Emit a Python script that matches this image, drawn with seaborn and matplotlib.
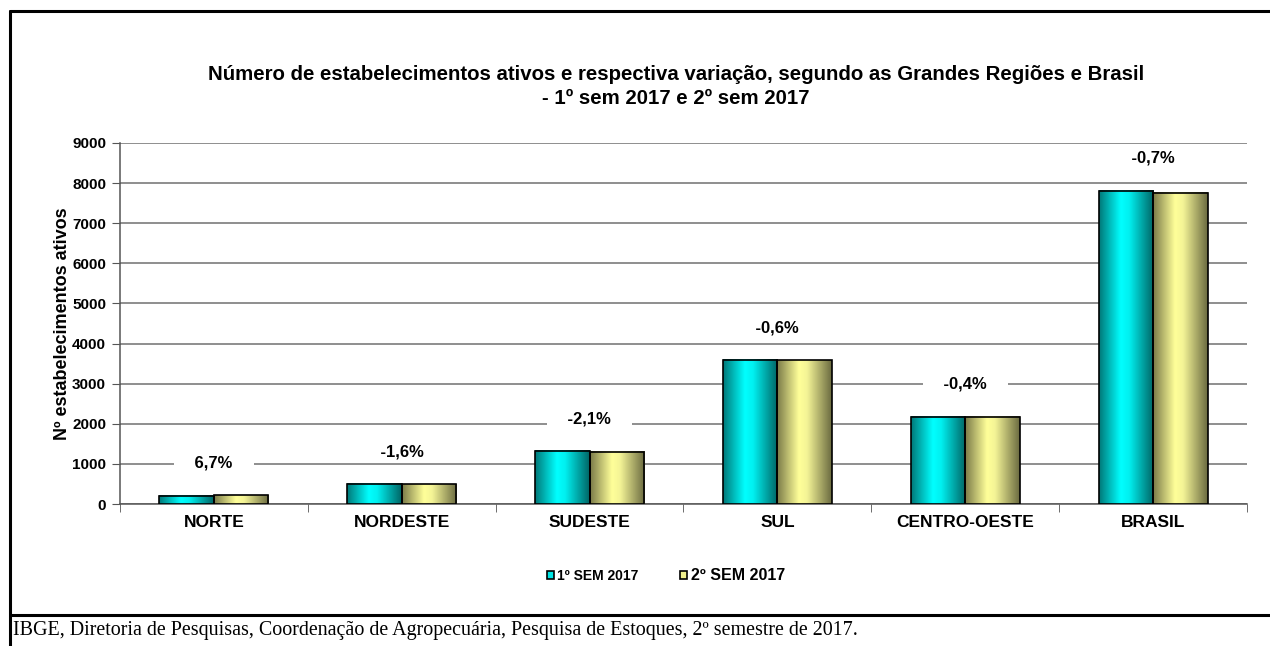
import matplotlib
matplotlib.use("Agg")
import matplotlib.pyplot as plt
import numpy as np
import pandas as pd
import seaborn as sns
from matplotlib.colors import LinearSegmentedColormap
from matplotlib.patches import Patch
from matplotlib.lines import Line2D

# data
regioes = ["NORTE", "NORDESTE", "SUDESTE", "SUL", "CENTRO-OESTE", "BRASIL"]
sem1 = [210, 505, 1330, 3600, 2180, 7815]
sem2 = [224, 497, 1302, 3578, 2171, 7760]
variacao = ["6,7%", "-1,6%", "-2,1%", "-0,6%", "-0,4%", "-0,7%"]
series = ["1º SEM 2017", "2º SEM 2017"]

df = pd.DataFrame({
    "Regiao": regioes * 2,
    "Semestre": [series[0]] * 6 + [series[1]] * 6,
    "Valor": sem1 + sem2,
})

sns.set_style("white")
plt.rcParams["font.family"] = ["Liberation Sans", "DejaVu Sans"]
plt.rcParams["text.color"] = "black"
plt.rcParams["axes.labelcolor"] = "black"
plt.rcParams["xtick.color"] = "black"
plt.rcParams["ytick.color"] = "black"

fig = plt.figure(figsize=(12.7, 6.46), dpi=100)
ax = fig.add_axes([120 / 1270, 1 - 504 / 646, 1127 / 1270, 361 / 646])

sns.barplot(data=df, x="Regiao", y="Valor", hue="Semestre", order=regioes,
            hue_order=series, palette=["#00e5e5", "#f0f08c"], width=0.58,
            edgecolor="black", linewidth=1.2, legend=False, ax=ax, zorder=3)

# gradient shading for the bars (Excel style)
cmap_c = LinearSegmentedColormap.from_list(
    "c", [(0, "#007878"), (0.4, "#00ffff"), (0.55, "#00f0f0"), (1, "#006464")])
cmap_y = LinearSegmentedColormap.from_list(
    "y", [(0, "#7a7a48"), (0.4, "#ffff99"), (0.55, "#f4f496"), (1, "#6a6a40")])
grad = np.linspace(0, 1, 256).reshape(1, -1)
bars = [p for p in ax.patches if p.get_height() > 0]
for p in bars:
    x0, y0 = p.get_x(), p.get_y()
    w, h = p.get_width(), p.get_height()
    fc = p.get_facecolor()
    cm = cmap_c if fc[2] > 0.7 else cmap_y
    ax.imshow(grad, extent=[x0, x0 + w, y0, y0 + h], aspect="auto",
              cmap=cm, zorder=2.9, interpolation="bicubic")
    p.set_facecolor("none")

ax.set_xlim(-0.5, 5.5)
ax.set_ylim(0, 9000)
ax.set_yticks(np.arange(0, 9001, 1000))
ax.grid(axis="y", color="#707070", linewidth=1.1, zorder=0)
ax.set_axisbelow(True)

# percentage labels above each group
for i, lab in enumerate(variacao):
    top = max(sem1[i], sem2[i])
    ax.text(i, top + 800, "    " + lab + "    ", ha="center", va="center",
            fontsize=12, fontweight="bold", color="black", zorder=4,
            bbox=dict(boxstyle="square,pad=0.15", fc="white", ec="none"))

ax.set_xlabel("")
ax.set_ylabel("Nº estabelecimentos ativos", fontsize=13, fontweight="bold", labelpad=1)
for t in ax.get_yticklabels():
    t.set_fontweight("bold")
    t.set_fontsize(11)
for t in ax.get_xticklabels():
    t.set_fontweight("bold")
    t.set_fontsize(12.5)

ax.tick_params(axis="y", which="major", direction="out", length=6, color="#555555",
               left=True, pad=4)
ax.tick_params(axis="x", which="major", length=0, pad=8)
ax.set_xticks(np.arange(-0.5, 6, 1), minor=True)
ax.tick_params(axis="x", which="minor", direction="out", length=6, color="#555555",
               bottom=True)

for s in ["top", "right"]:
    ax.spines[s].set_visible(False)
ax.spines["left"].set_color("#555555")
ax.spines["bottom"].set_color("#555555")
ax.spines["left"].set_linewidth(1.1)
ax.spines["bottom"].set_linewidth(1.1)

fig.text(676 / 1270, 1 - 75 / 646,
         "Número de estabelecimentos ativos e respectiva variação, segundo as Grandes Regiões e Brasil",
         ha="center", va="center", fontsize=14.7, fontweight="bold")
fig.text(676 / 1270, 1 - 98 / 646, "- 1º sem 2017 e 2º sem 2017",
         ha="center", va="center", fontsize=14.7, fontweight="bold")

# legend
handles = [Patch(facecolor="#00e5e5", edgecolor="black", linewidth=1.2),
           Patch(facecolor="#f0f08c", edgecolor="black", linewidth=1.2)]
leg = fig.legend(handles, series, loc="center", bbox_to_anchor=(666 / 1270, 1 - 575 / 646),
                 ncol=2, frameon=False, handlelength=0.5, handleheight=0.5,
                 handletextpad=0.25, columnspacing=3.0, prop={"weight": "bold", "size": 10})
leg.get_texts()[1].set_fontsize(11.5)

# frame and footer
lw = 2.2
fig.add_artist(Line2D([10 / 1270, 10 / 1270], [0, 1 - 11 / 646], transform=fig.transFigure,
                      color="black", linewidth=lw))
fig.add_artist(Line2D([10 / 1270, 1], [1 - 11 / 646, 1 - 11 / 646], transform=fig.transFigure,
                      color="black", linewidth=lw))
fig.add_artist(Line2D([10 / 1270, 1], [1 - 615 / 646, 1 - 615 / 646], transform=fig.transFigure,
                      color="black", linewidth=lw))
fig.text(13 / 1270, 1 - 631 / 646,
         "IBGE, Diretoria de Pesquisas, Coordenação de Agropecuária, Pesquisa de Estoques, 2º semestre de 2017.",
         ha="left", va="center", fontsize=14.4, family=["Liberation Serif", "DejaVu Serif"])

fig.savefig("out.png", dpi=100, facecolor="white")
